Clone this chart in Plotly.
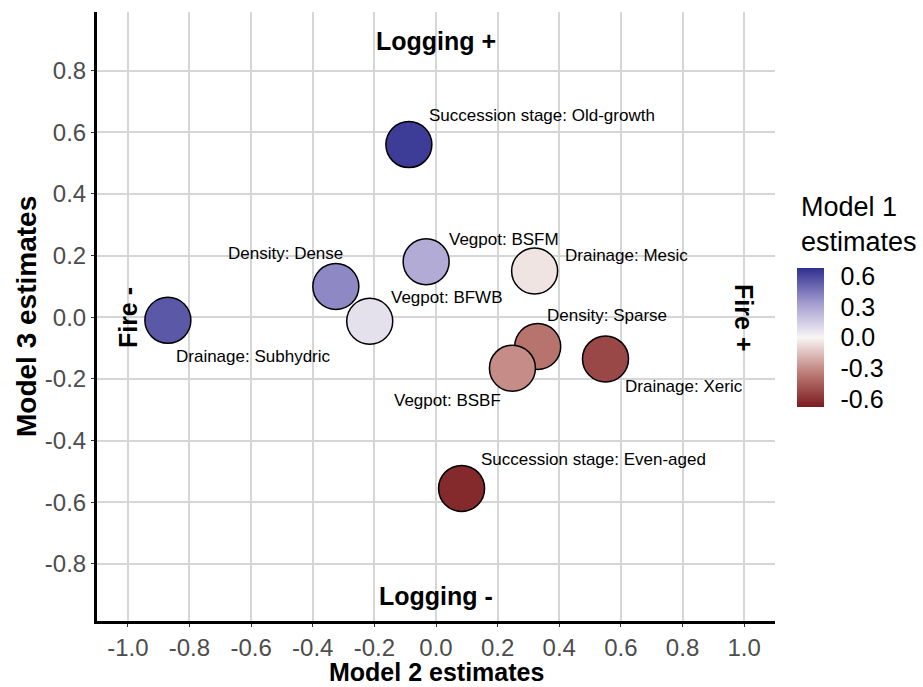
import plotly.graph_objects as go

# Category estimates from the three models
labels = [
    "Succession stage: Old-growth",
    "Vegpot: BSFM",
    "Drainage: Mesic",
    "Density: Dense",
    "Vegpot: BFWB",
    "Drainage: Subhydric",
    "Density: Sparse",
    "Vegpot: BSBF",
    "Drainage: Xeric",
    "Succession stage: Even-aged",
]
model2 = [-0.088, -0.032, 0.32, -0.325, -0.215, -0.87, 0.33, 0.248, 0.55, 0.083]
model3 = [0.56, 0.18, 0.15, 0.10, -0.013, -0.01, -0.095, -0.165, -0.135, -0.555]
model1 = [0.64, 0.28, -0.05, 0.40, 0.08, 0.55, -0.38, -0.30, -0.53, -0.63]

# Label placement relative to each point (pixels) and anchoring
label_dx = [18, 21, 28, -50, 19, 6, 7, -9, 17, 17]
label_dy = [29, 22, 16, 33, 24, -36, 31, -32, -28, 29]
label_anchor = ["left", "left", "left", "center", "left", "left", "left", "right", "left", "left"]

x_ticks = [-1.0, -0.8, -0.6, -0.4, -0.2, 0.0, 0.2, 0.4, 0.6, 0.8, 1.0]
y_ticks = [-0.8, -0.6, -0.4, -0.2, 0.0, 0.2, 0.4, 0.6, 0.8]
cbar_ticks = [-0.6, -0.3, 0.0, 0.3, 0.6]


def fmt(v):
    return f"{v:.1f}"


colorscale = [
    [0.0, "#7b1b1f"],
    [0.25, "#bf7f79"],
    [0.5, "#f8f5f5"],
    [0.75, "#a29bcf"],
    [1.0, "#2f2f8f"],
]

TEXT_FONT = "Liberation Sans, Arial, sans-serif"

fig = go.Figure()
fig.add_trace(
    go.Scatter(
        x=model2,
        y=model3,
        mode="markers",
        marker=dict(
            size=46,
            color=model1,
            colorscale=colorscale,
            cmin=-0.68,
            cmax=0.68,
            line=dict(color="black", width=1.5),
            opacity=1,
            colorbar=dict(
                x=1.032, xanchor="left", xpad=0,
                y=0.4655, yanchor="middle", ypad=0,
                len=139, lenmode="pixels",
                thickness=27,
                outlinewidth=0,
                tickvals=cbar_ticks,
                ticktext=[fmt(v) for v in cbar_ticks],
                ticks="outside", tickcolor="rgba(255,255,255,0)", ticklen=12,
                tickfont=dict(size=25, color="black", family=TEXT_FONT),
            ),
        ),
        hoverinfo="skip",
        showlegend=False,
    )
)

annotations = []
for lab, xv, yv, dx, dy, anc in zip(labels, model2, model3, label_dx, label_dy, label_anchor):
    annotations.append(dict(
        x=xv, y=yv, xref="x", yref="y", text=lab, showarrow=False,
        xanchor=anc, yanchor="middle", xshift=dx, yshift=dy,
        font=dict(size=17, color="black", family=TEXT_FONT),
    ))

# Direction labels around the plot
direction_text = ["Logging +", "Logging -", "Fire -", "Fire +"]
direction_x = [0.0, 0.0, -1.0, 1.0]
direction_y = [0.895, -0.905, 0.0, 0.0]
direction_angle = [0, 0, -90, 90]
for t, xv, yv, ang in zip(direction_text, direction_x, direction_y, direction_angle):
    annotations.append(dict(
        x=xv, y=yv, xref="x", yref="y", text=f"<b>{t}</b>", showarrow=False,
        textangle=ang, xanchor="center", yanchor="middle",
        font=dict(size=25, color="black", family=TEXT_FONT),
    ))

# Axis titles
annotations.append(dict(
    x=0.5, y=-0.0837, xref="paper", yref="paper", text="<b>Model 2 estimates</b>",
    showarrow=False, xanchor="center", yanchor="middle",
    font=dict(size=25, color="black", family=TEXT_FONT),
))
annotations.append(dict(
    x=-0.104, y=0.5, xref="paper", yref="paper", text="<b>Model 3 estimates</b>",
    showarrow=False, xanchor="center", yanchor="middle", textangle=-90,
    font=dict(size=28, color="black", family=TEXT_FONT),
))

# Colour bar heading
annotations.append(dict(
    x=1.035, y=0.708, xref="paper", yref="paper", text="Model 1<br>estimates",
    showarrow=False, xanchor="left", yanchor="top", align="left",
    font=dict(size=27, color="black", family=TEXT_FONT),
))

axis_common = dict(
    showline=True, linecolor="black", linewidth=3, mirror=False,
    zeroline=False, showgrid=True, gridcolor="#d6d6d6", gridwidth=1.7,
    ticks="outside", ticklen=3, tickcolor="#333333", tickwidth=1.4,
    tickfont=dict(size=24, color="#4d4d4d", family=TEXT_FONT),
    automargin=False,
)

fig.update_layout(
    width=923, height=687,
    margin=dict(l=97, r=148, t=12, b=66, autoexpand=False),
    paper_bgcolor="white", plot_bgcolor="white",
    font=dict(family=TEXT_FONT),
    xaxis=dict(
        range=[-1.1, 1.1], tickvals=x_ticks, ticktext=[fmt(v) for v in x_ticks],
        **axis_common,
    ),
    yaxis=dict(
        range=[-0.985, 0.99], tickvals=y_ticks, ticktext=[fmt(v) for v in y_ticks],
        **axis_common,
    ),
    annotations=annotations,
)

fig.write_html("out.html")
